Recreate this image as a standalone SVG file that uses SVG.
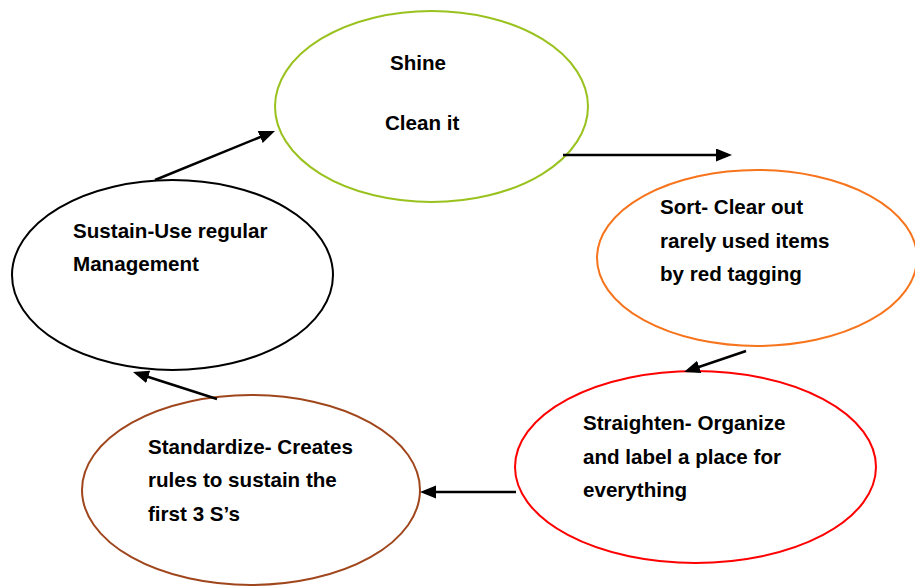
<svg xmlns="http://www.w3.org/2000/svg" width="915" height="586" viewBox="0 0 915 586">
<style>
.n{fill:#fff;stroke-width:2}
.t{font-family:"Liberation Sans",Arial,sans-serif;font-weight:bold;font-size:20.6px;fill:#000}
.c line{stroke:#000;stroke-width:2.5}
</style>
<defs>
<marker id="ah" markerUnits="userSpaceOnUse" markerWidth="16" markerHeight="14" refX="12" refY="6.5" orient="auto">
<path d="M0,0 L16,6.5 L0,13 z" fill="#000"/>
</marker>
</defs>
<rect width="915" height="586" fill="#fff"/>
<g id="shine">
<ellipse class="n" cx="431.5" cy="106.5" rx="156.5" ry="95.5" stroke="#99C21E"/>
<text class="t" x="390" y="70">Shine</text>
<text class="t" x="385" y="130">Clean it</text>
</g>
<g id="sort">
<ellipse class="n" cx="757" cy="258" rx="160" ry="88" stroke="#F7741C"/>
<text class="t" x="660" y="214">Sort- Clear out</text>
<text class="t" x="660" y="248">rarely used items</text>
<text class="t" x="660" y="281">by red tagging</text>
</g>
<g id="straighten">
<ellipse class="n" cx="695.5" cy="467" rx="180.5" ry="96" stroke="#FF0000"/>
<text class="t" x="583" y="430">Straighten- Organize</text>
<text class="t" x="583" y="464">and label a place for</text>
<text class="t" x="583" y="497">everything</text>
</g>
<g id="standardize">
<ellipse class="n" cx="251" cy="490" rx="169" ry="95" stroke="#A0461C"/>
<text class="t" x="148" y="454">Standardize- Creates</text>
<text class="t" x="148" y="487">rules to sustain the</text>
<text class="t" x="148" y="521">first 3 S’s</text>
</g>
<g id="sustain">
<ellipse class="n" cx="172.5" cy="275" rx="160.5" ry="95" stroke="#000"/>
<text class="t" x="73" y="238">Sustain-Use regular</text>
<text class="t" x="73" y="271">Management</text>
</g>
<g id="connectors" class="c">
<line x1="155" y1="180" x2="271.3" y2="132.5" marker-end="url(#ah)"/>
<line x1="563" y1="155" x2="728" y2="155" marker-end="url(#ah)"/>
<line x1="746" y1="351" x2="687.8" y2="370.7" marker-end="url(#ah)"/>
<line x1="516" y1="492" x2="424" y2="492" marker-end="url(#ah)"/>
<line x1="217" y1="399" x2="136.8" y2="373.2" marker-end="url(#ah)"/>
</g>
</svg>
